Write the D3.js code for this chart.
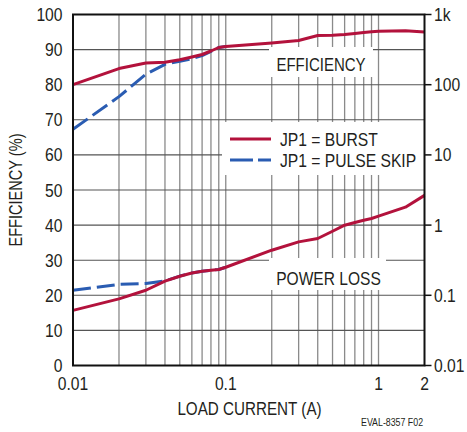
<!DOCTYPE html>
<html>
<head>
<meta charset="utf-8">
<script src="https://cdn.jsdelivr.net/npm/d3@7/dist/d3.min.js"></script>
<style>
  html, body { margin: 0; padding: 0; background: #fff; }
  svg { display: block; }
  text { font-family: "Liberation Sans", Arial, sans-serif; fill: #231f20; }
</style>
</head>
<body>
<script>
// Load current in amps (shared by all series)
const currentBurst = [0.01, 0.02, 0.03, 0.04, 0.05, 0.06, 0.07, 0.08, 0.09, 0.1,
                      0.2, 0.3, 0.4, 0.5, 0.6, 0.7, 0.8, 0.9, 1, 1.5, 2];
const currentPulse = [0.01, 0.02, 0.03, 0.04, 0.05, 0.06, 0.07, 0.08, 0.09, 0.1];

// Efficiency (%), left axis
const effBurst = [80.0, 84.6, 86.2, 86.4, 87.1, 87.9, 88.6, 89.6, 90.6, 90.9,
                  91.9, 92.6, 94.0, 94.1, 94.3, 94.6, 94.9, 95.1, 95.2, 95.4, 95.0];
const effPulse = [67.3, 76.6, 83.0, 85.8, 86.7, 87.4, 88.3, 89.5, 90.6, 90.9];

// Power loss (W), right log axis
const lossBurst = [0.061, 0.089, 0.118, 0.159, 0.187, 0.208, 0.220, 0.228, 0.233, 0.251,
                   0.439, 0.577, 0.644, 0.818, 0.997, 1.09, 1.17, 1.24, 1.34, 1.80, 2.65];
const lossPulse = [0.118, 0.143, 0.147, 0.160, 0.188, 0.208, 0.220, 0.228, 0.233, 0.251];

// Axis ticks
const xTickValues = [0.01, 0.1, 1, 2];
const xTickLabels = ["0.01", "0.1", "1", "2"];
const xGridValues = [0.02, 0.03, 0.04, 0.05, 0.06, 0.07, 0.08, 0.09, 0.1,
                     0.2, 0.3, 0.4, 0.5, 0.6, 0.7, 0.8, 0.9, 1];
const leftTicks = [0, 10, 20, 30, 40, 50, 60, 70, 80, 90, 100];
const rightTicks = [0.01, 0.1, 1, 10, 100, 1000];
const rightTickLabels = ["0.01", "0.1", "1", "10", "100", "1k"];

const RED = "#b3123c";
const BLUE = "#2a5cb2";

const W = 467, H = 432;
const svg = d3.select("body").append("svg").attr("width", W).attr("height", H);

const x = d3.scaleLog().domain([0.01, 2]).range([73, 424.5]);
const yL = d3.scaleLinear().domain([0, 100]).range([365.5, 14.5]);
const yR = d3.scaleLog().domain([0.01, 1000]).range([365.5, 14.5]);

// condensed text helper
function label(g, str, tx, ty, opts = {}) {
  const size = opts.size || 18;
  const sx = opts.sx || 0.85;
  const rot = opts.rotate ? ` rotate(${opts.rotate})` : "";
  return g.append("text")
    .attr("transform", `translate(${tx},${ty})${rot} scale(${sx},1)`)
    .attr("text-anchor", opts.anchor || "start")
    .style("font-size", size + "px")
    .text(str);
}

// grid
const grid = svg.append("g");
grid.selectAll("line.v").data(xGridValues).join("line")
  .attr("x1", d => x(d)).attr("x2", d => x(d))
  .attr("y1", yL(100)).attr("y2", yL(0))
  .attr("stroke", "#8a8a8a").attr("stroke-width", 1.3);
grid.selectAll("line.h").data(leftTicks.slice(1, -1)).join("line")
  .attr("x1", x(0.01)).attr("x2", x(2))
  .attr("y1", d => yL(d)).attr("y2", d => yL(d))
  .attr("stroke", "#555").attr("stroke-width", 1.1);

// white label panels over the grid
const panels = [
  [269, 47, 104, 30],
  [222, 122, 202.5, 53],
  [269, 258, 117, 32]
];
svg.append("g").selectAll("rect").data(panels).join("rect")
  .attr("x", d => d[0]).attr("y", d => d[1])
  .attr("width", d => d[2]).attr("height", d => d[3])
  .attr("fill", "#fff");

// series
const lineEff = d3.line().x(d => x(d[0])).y(d => yL(d[1]));
const lineLoss = d3.line().x(d => x(d[0])).y(d => yR(d[1]));
const plot = svg.append("g").attr("fill", "none")
  .attr("stroke-width", 3).attr("stroke-linejoin", "round");

plot.append("path").datum(d3.zip(currentPulse, effPulse))
  .attr("d", lineEff).attr("stroke", BLUE).attr("stroke-dasharray", "18,6");
plot.append("path").datum(d3.zip(currentPulse, lossPulse))
  .attr("d", lineLoss).attr("stroke", BLUE).attr("stroke-dasharray", "18,6");
plot.append("path").datum(d3.zip(currentBurst, effBurst))
  .attr("d", lineEff).attr("stroke", RED);
plot.append("path").datum(d3.zip(currentBurst, lossBurst))
  .attr("d", lineLoss).attr("stroke", RED);

// frame
svg.append("rect")
  .attr("x", x(0.01)).attr("y", yL(100))
  .attr("width", x(2) - x(0.01)).attr("height", yL(0) - yL(100))
  .attr("fill", "none").attr("stroke", "#111").attr("stroke-width", 2);

// right axis outward ticks
svg.append("g").selectAll("line").data(rightTicks).join("line")
  .attr("x1", x(2)).attr("x2", x(2) + 7)
  .attr("y1", d => yR(d)).attr("y2", d => yR(d))
  .attr("stroke", "#111").attr("stroke-width", 1.5);

const txt = svg.append("g");
// left tick labels
leftTicks.forEach(v => label(txt, String(v), 62.5, yL(v) + 6.5, { anchor: "end", sx: 0.87 }));
// right tick labels
rightTicks.forEach((v, i) => label(txt, rightTickLabels[i], 434, yR(v) + 6.5, { sx: 0.87 }));
// bottom tick labels
xTickValues.forEach((v, i) => label(txt, xTickLabels[i], x(v), 389.5, { anchor: "middle", sx: 0.87 }));

// axis titles
label(txt, "LOAD CURRENT (A)", 249.5, 415, { anchor: "middle", sx: 0.845 });
label(txt, "EFFICIENCY (%)", 21.5, 190, { anchor: "middle", rotate: -90, sx: 0.81 });

// panel labels
label(txt, "EFFICIENCY", 321, 71, { anchor: "middle", size: 18.5, sx: 0.81 });
label(txt, "POWER LOSS", 328.5, 285, { anchor: "middle", size: 19, sx: 0.82 });

// legend
const lg = svg.append("g");
lg.append("line").attr("x1", 230).attr("x2", 271).attr("y1", 139).attr("y2", 139)
  .attr("stroke", RED).attr("stroke-width", 3);
lg.append("line").attr("x1", 230).attr("x2", 271).attr("y1", 160).attr("y2", 160)
  .attr("stroke", BLUE).attr("stroke-width", 3).attr("stroke-dasharray", "23,5");
label(lg, "JP1 = BURST", 280, 146, { sx: 0.87 });
label(lg, "JP1 = PULSE SKIP", 280, 166.5, { sx: 0.87 });

// figure id
label(txt, "EVAL-8357 F02", 361, 426, { size: 10.5, sx: 0.84 });
</script>
</body>
</html>
